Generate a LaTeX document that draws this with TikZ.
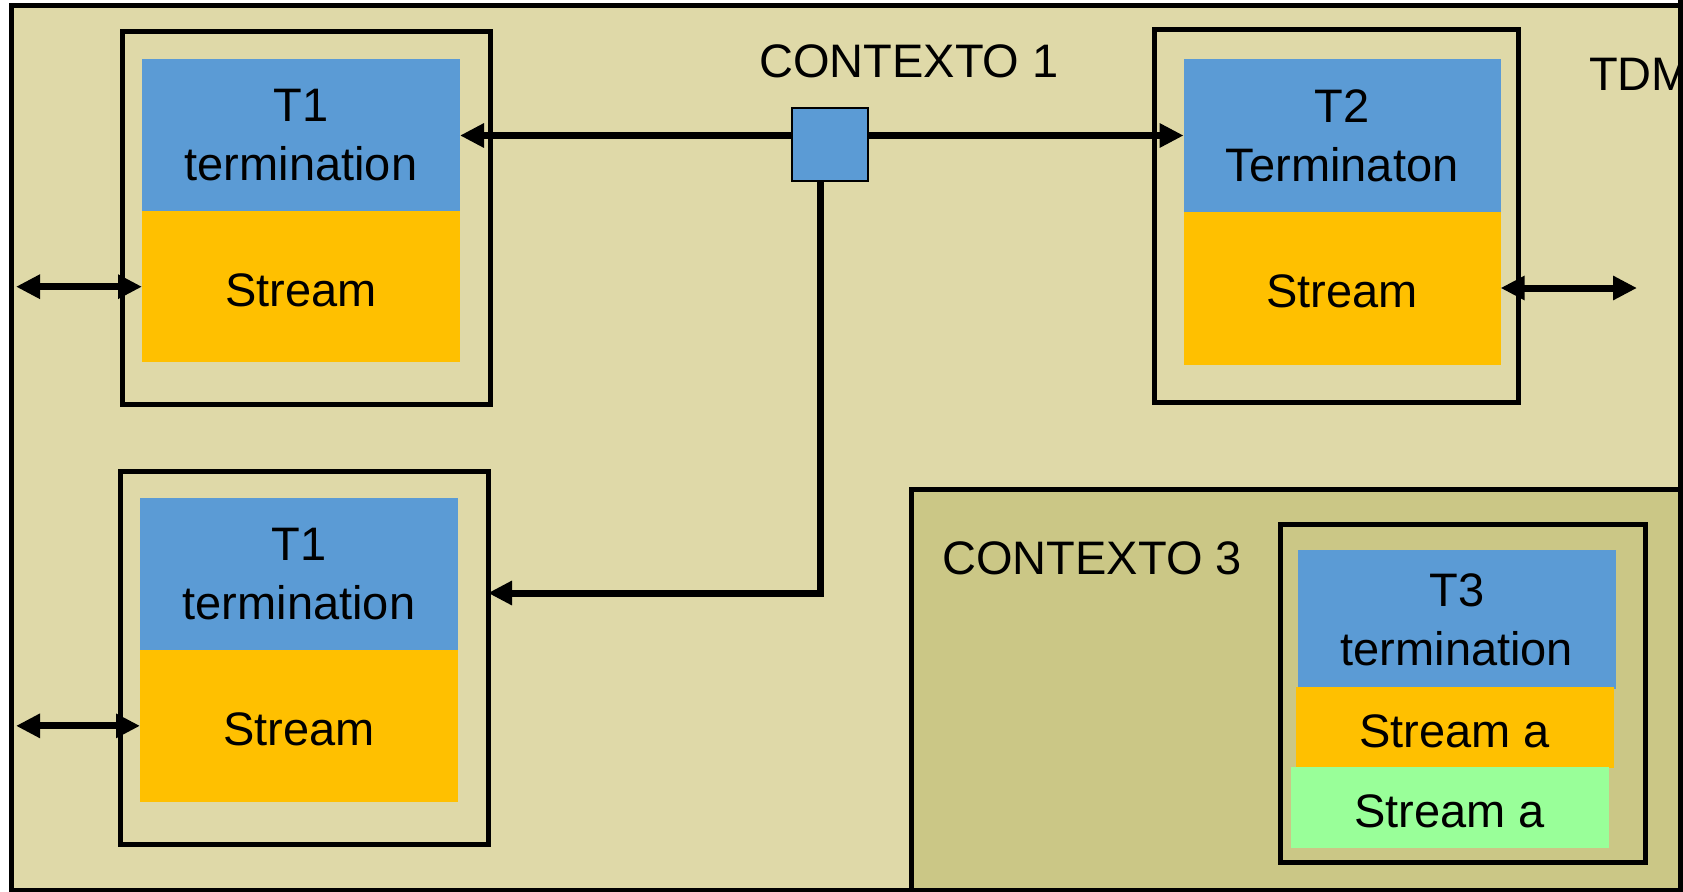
\documentclass[tikz,border=0pt]{standalone}
\usepackage{fontspec}
\setmainfont{Liberation Sans}
\usetikzlibrary{arrows.meta}
\definecolor{tdmbg}{RGB}{223,217,168}
\definecolor{ctxbg}{RGB}{203,199,134}
\definecolor{termblue}{RGB}{91,155,213}
\definecolor{streamorange}{RGB}{255,192,0}
\definecolor{streamgreen}{RGB}{153,255,153}
\begin{document}
\begin{tikzpicture}[x=1pt,y=-1pt,
  every node/.style={font=\fontsize{47}{59}\selectfont, inner sep=0pt, outer sep=0pt,
    execute at begin node={\rule{0pt}{40pt}}},
  frame/.style={rectangle, draw=black, line width=5pt},
  holder/.style={rectangle, draw=black, line width=5pt},
  block/.style={rectangle, draw=none, align=center},
  termblock/.style={block, fill=termblue},
  streamblock/.style={block, fill=streamorange},
  greenblock/.style={block, fill=streamgreen},
  conn/.style={line width=7pt, -{Triangle[length=24pt,width=23pt]}},
  dbl/.style={line width=7pt, {Triangle[length=24pt,width=23pt]}-{Triangle[length=24pt,width=23pt]}},
]
\useasboundingbox (0,0) rectangle (1683,891);
\clip (0,0) rectangle (1683,891);

% outer TDM area
\node[frame, fill=tdmbg, minimum width=1669pt, minimum height=884pt] (tdm) at (845.5,448) {};
\node[anchor=west] (tdmlabel) at (1589,70) {TDM};
\draw[black, line width=5pt] (1680,0) -- (1680,891);

% context 1 label
\node (ctx1) at (909,58) {CONTEXTO 1};

% upper T1
\node[holder, minimum width=368pt, minimum height=373pt] (t1o) at (306.5,218.4) {};
\node[termblock, minimum width=318pt, minimum height=152.4pt] (t1a) at (301,135.5) {T1\\termination};
\node[streamblock, minimum width=318pt, minimum height=151pt] (t1s) at (301,286.7) {Stream};

% T2
\node[holder, minimum width=364.5pt, minimum height=372pt] (t2o) at (1336.25,216) {};
\node[termblock, minimum width=317pt, minimum height=152pt] (t2a) at (1342.1,135.5) {T2\\Terminaton};
\node[streamblock, minimum width=317pt, minimum height=153pt] (t2s) at (1342.1,288) {Stream};

% lower T1
\node[holder, minimum width=367.5pt, minimum height=372.3pt] (t1bo) at (304.25,657.85) {};
\node[termblock, minimum width=318pt, minimum height=151.7pt] (t1ba) at (299,574.2) {T1\\termination};
\node[streamblock, minimum width=318pt, minimum height=151.7pt] (t1bs) at (299,725.85) {Stream};

% context 3
\node[holder, fill=ctxbg, minimum width=768.3pt, minimum height=400.7pt] (ctx3) at (1295.85,689.65) {};
\node (ctx3label) at (1092,555) {CONTEXTO 3};
\node[holder, minimum width=365.5pt, minimum height=338.7pt] (t3o) at (1462.75,693.35) {};
\node[termblock, minimum width=317.8pt, minimum height=139.3pt] (t3a) at (1456.9,619.65) {T3\\termination};
\node[streamblock, minimum width=317.9pt, minimum height=81pt] (t3s) at (1454.75,727.8) {Stream a};
\node[greenblock, minimum width=317.6pt, minimum height=80.4pt] (t3g) at (1449.8,807.5) {Stream a};

% context hub and its connectors
\node[draw=black, line width=2pt, fill=termblue, minimum width=76pt, minimum height=73pt] (hub) at (830,144) {};
\coordinate (elbow) at (820,593);
\draw[conn] (hub.west |- t1a.east) -- (t1a.east);
\draw[conn] (hub.east |- t2a.west) -- (t2a.west);
\draw[conn] (hub.south -| elbow) -- (elbow) -- (elbow -| t1bo.east);

% external stream links
\coordinate (leftend) at (16,0);
\coordinate (rightend) at (1637,0);
\draw[dbl] (leftend |- t1s.west) -- (t1s.west);
\draw[dbl] (leftend |- t1bs.west) -- (t1bs.west);
\draw[dbl] (t2s.east) -- (rightend |- t2s.east);
\end{tikzpicture}
\end{document}
